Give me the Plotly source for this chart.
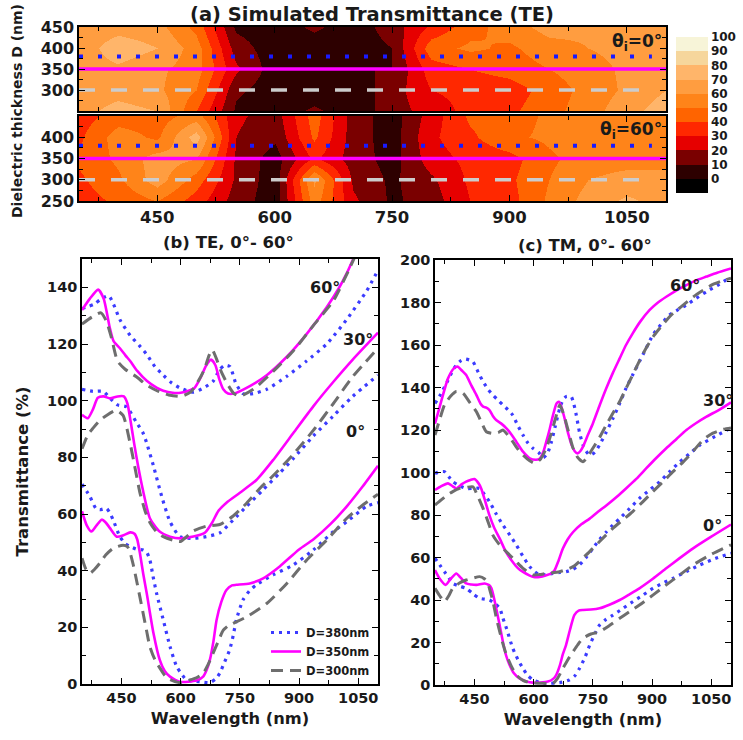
import plotly.graph_objects as go

W, H = 743, 740

# ---------------- panel (a) contour maps ----------------
wl_grid = [350, 400, 450, 500, 550, 600, 650, 700, 750, 800, 850, 900, 950, 1000, 1050, 1100]
d_grid = [250, 300, 350, 400, 450]
# rows follow d_grid (250 -> 450)
map_0deg = [
    [66, 74, 70, 40, 8, 4, 12, 4, 15, 25, 33, 38, 46, 56, 66, 76],
    [64, 66, 62, 50, 12, 4, 4, 4, 15, 30, 33, 35, 44, 54, 62, 70],
    [65, 68, 62, 55, 22, 4, 4, 10, 10, 35, 40, 44, 50, 56, 62, 66],
    [64, 76, 70, 55, 15, 4, 4, 4, 10, 46, 52, 48, 56, 60, 63, 65],
    [63, 66, 64, 47, 8, 4, 12, 4, 15, 32, 46, 55, 64, 62, 63, 64],
]
map_60deg = [
    [35, 42, 50, 35, 15, 4, 55, 22, 8, 15, 30, 36, 52, 64, 72, 66],
    [38, 48, 65, 45, 18, 4, 62, 18, 8, 18, 32, 38, 50, 60, 64, 62],
    [42, 52, 65, 60, 18, 5, 32, 15, 6, 25, 33, 36, 48, 55, 56, 58],
    [38, 55, 48, 75, 20, 12, 42, 15, 5, 28, 38, 48, 52, 55, 55, 56],
    [35, 45, 45, 55, 22, 15, 45, 15, 5, 25, 42, 45, 52, 55, 55, 56],
]
level_colors = ["#000000", "#2d0000", "#7a0000", "#e60000", "#ff2800", "#ff6400",
                "#ff8419", "#ff9d40", "#ffb56a", "#f6d69c", "#f7f4d8"]
cbar_ticks = [0, 10, 20, 30, 40, 50, 60, 70, 80, 90, 100]
ref_D = [380, 350, 300]
ref_x_end = [1082, 1100, 1068]

# ---------------- panel (b) TE curves ----------------
b60_350_x = [350, 370, 391, 405, 420, 430, 446, 460, 472, 490, 514, 540, 556, 580, 600, 620, 635, 650, 665, 677, 688, 698, 708, 720, 735, 767, 818, 869, 919, 970, 1000, 1021, 1042]
b60_350_y = [132, 136, 139.2, 136, 126, 121, 118.5, 116, 114, 110.5, 107, 104.5, 103.5, 102.8, 102.8, 103.5, 104.5, 108, 112.5, 114.5, 112.5, 107.5, 104, 102.5, 102.5, 104.5, 109, 115.5, 123.5, 133, 139.5, 145, 151.5]
b60_380_x = [350, 380, 400, 418, 430, 446, 472, 495, 514, 535, 556, 575, 598, 632, 657, 682, 699, 712, 725, 740, 758, 784, 818, 869, 919, 970, 1021, 1071, 1100]
b60_380_y = [132.5, 134, 136, 137, 134, 128.6, 123, 119.5, 116.3, 112, 109, 106.5, 104.5, 103, 104.4, 106.8, 111, 112.5, 112, 106, 102.5, 102.5, 104, 108.6, 114, 120, 128.7, 138.7, 146]
b60_300_x = [350, 375, 398, 412, 425, 440, 460, 487, 514, 540, 570, 600, 625, 645, 660, 672, 680, 690, 702, 718, 735, 750, 784, 835, 885, 936, 987, 1029, 1042]
b60_300_y = [127, 129.5, 131, 128, 122, 114, 111, 108.5, 105.5, 103.5, 102, 101.5, 103, 107, 111, 116, 118, 115, 110.5, 106, 102.5, 101.6, 104, 110.4, 117.5, 126.5, 135.3, 147, 151]

b30_350_x = [350, 365, 378, 390, 405, 421, 440, 456, 465, 474, 482, 492, 505, 522, 545, 573, 600, 640, 662, 680, 695, 716, 750, 792, 834, 885, 936, 986, 1036, 1100]
b30_350_y = [95, 93.8, 97, 101, 101.5, 100.8, 101.5, 101.5, 99, 92, 85, 77, 68, 58.5, 54, 52, 51.4, 52.3, 53.5, 57, 61, 64, 67.5, 72, 79, 88.5, 98, 106.5, 114.5, 124]
b30_380_x = [350, 378, 404, 420, 440, 463, 488, 505, 514, 531, 552, 573, 598, 632, 665, 699, 733, 767, 809, 851, 885, 936, 986, 1036, 1100]
b30_380_y = [104, 103.3, 103.3, 101, 98.5, 97.8, 92.3, 88.5, 85, 77, 66.2, 57.3, 52, 51.4, 52, 53.3, 57.9, 62.7, 68.6, 74.5, 79.5, 87.5, 94.5, 101.5, 109]
b30_300_x = [350, 365, 378, 395, 412, 437, 454, 471, 484, 497, 510, 522, 540, 556, 580, 600, 615, 632, 665, 699, 733, 767, 801, 834, 885, 936, 987, 1036, 1100]
b30_300_y = [83, 88, 90.3, 93, 94.8, 96.6, 94.8, 85.6, 76.5, 67.4, 61, 57, 53.5, 52, 50.8, 50.3, 52, 54, 55.7, 56.3, 59.3, 63.8, 69.1, 73.5, 81, 89.5, 99, 108.5, 118.5]

b0_350_x = [350, 362, 374, 387, 400, 410, 421, 438, 455, 472, 483, 490, 497, 505, 514, 531, 547, 560, 573, 598, 640, 657, 666, 674, 683, 691, 703, 716, 730, 741, 775, 809, 851, 900, 936, 980, 1021, 1060, 1100]
b0_350_y = [61, 56, 53.8, 56, 58, 57, 55, 52, 52.5, 53.5, 53, 51, 46, 39, 32, 18, 8.5, 4.5, 2.6, 0.8, 1.2, 2.6, 5, 8.5, 15, 22.6, 29, 33.2, 34.8, 35, 35.5, 37.3, 41.5, 47.5, 51, 56.5, 62.7, 69.5, 77]
b0_380_x = [350, 362, 370, 385, 395, 412, 420, 429, 446, 460, 472, 490, 505, 514, 522, 530, 539, 556, 573, 590, 605, 615, 649, 674, 690, 699, 712, 724, 733, 741, 758, 775, 792, 834, 885, 936, 987, 1021, 1071, 1100]
b0_380_y = [70.5, 68, 66.2, 62, 61.5, 62, 60.5, 57.9, 52, 49.5, 48.5, 47.5, 47.3, 46.5, 43.8, 38, 32, 22.6, 13.2, 6.1, 3, 1.4, 0.8, 0.5, 2, 3.8, 8, 12, 17, 22.6, 29.7, 33, 35, 38.5, 42, 47.3, 53.8, 57.3, 62.7, 64]
b0_300_x = [350, 360, 370, 382, 395, 410, 429, 454, 465, 471, 480, 488, 497, 505, 514, 522, 535, 547, 560, 573, 598, 623, 640, 657, 670, 682, 695, 708, 720, 733, 767, 818, 869, 919, 970, 1021, 1060, 1100]
b0_300_y = [44.4, 40.5, 39.1, 40.5, 42.6, 45.5, 47.9, 49, 48.5, 46.8, 42, 36.7, 30.5, 24.9, 18.5, 13.2, 8.5, 5.7, 3, 1.6, 0.5, 1.4, 2.2, 3.8, 7, 10.8, 15, 19, 20.5, 21.4, 23.7, 28.4, 35.5, 43.7, 50.8, 58.5, 63, 67]

# ---------------- panel (c) TM curves ----------------
c60_350_x = [350, 365, 383, 398, 408, 418, 429, 442, 455, 465, 472, 480, 488, 497, 505, 518, 531, 545, 556, 573, 590, 605, 615, 625, 632, 640, 649, 658, 664, 670, 679, 688, 696, 704, 711, 718, 725, 737, 750, 767, 784, 801, 818, 834, 851, 870, 894, 915, 936, 960, 987, 1010, 1038, 1065, 1100]
c60_350_y = [123, 133, 144.3, 149, 149.8, 148, 145.9, 141, 136.4, 132.5, 131, 130.5, 129.4, 126.5, 124.7, 123, 120.8, 117.5, 114.5, 109.8, 106.7, 106, 106.4, 110, 114.5, 120, 127, 132.5, 133.3, 131, 125, 118, 113, 110, 109, 110, 112.2, 117.5, 123.1, 131.5, 139.6, 147, 153.7, 160, 165.5, 171, 176.5, 180, 182.7, 185.5, 188.2, 190.3, 192.2, 194, 196]
c60_380_x = [350, 365, 381, 395, 404, 415, 425, 436, 446, 460, 472, 485, 497, 510, 522, 535, 547, 560, 573, 585, 598, 612, 624, 635, 645, 655, 666, 674, 682, 695, 702, 708, 716, 725, 733, 742, 755, 767, 784, 801, 818, 834, 851, 868, 885, 902, 922, 944, 965, 987, 1012, 1038, 1065, 1088, 1100]
c60_380_y = [132.5, 137, 142.7, 148, 150.6, 152.5, 153.4, 153, 152.2, 147, 142.7, 139, 136.4, 134, 131.8, 129.5, 127, 122, 117.6, 114, 111.4, 109.5, 107, 109, 114.5, 122, 130.2, 134, 135.7, 135.7, 132, 127, 119, 113, 110, 108.2, 109.5, 113, 119, 125.5, 132.5, 139.6, 146, 152.2, 158.5, 164.7, 169.5, 174.1, 176.5, 178.8, 182, 185.1, 188, 190.6, 191]
c60_300_x = [350, 362, 374, 390, 404, 421, 438, 455, 468, 480, 497, 510, 522, 535, 547, 560, 573, 590, 603, 618, 632, 643, 653, 660, 666, 672, 679, 690, 700, 712, 725, 737, 750, 767, 784, 801, 818, 834, 851, 868, 885, 905, 927, 948, 970, 990, 1012, 1033, 1054, 1075, 1100]
c60_300_y = [117.6, 125, 131.8, 136, 138.1, 137.3, 133, 128.6, 123.5, 119.2, 118.4, 118.8, 120, 117.5, 114.5, 111, 108.2, 105.5, 104.3, 106.5, 111.4, 117.5, 124, 128.5, 131.8, 129.5, 125.5, 118, 111.4, 107, 105.1, 107.5, 111.4, 116.5, 122.4, 128, 133.4, 139.5, 146, 152.5, 158.6, 164.5, 169.6, 174, 177.4, 180.5, 183.7, 186.2, 188.5, 190, 191.5]

c30_350_x = [350, 365, 383, 395, 404, 418, 429, 440, 450, 460, 467, 478, 488, 500, 514, 530, 547, 560, 573, 590, 600, 615, 632, 645, 653, 663, 674, 686, 700, 720, 742, 763, 784, 810, 834, 860, 885, 910, 936, 962, 987, 1012, 1038, 1070, 1100]
c30_350_y = [91.8, 93.5, 94.9, 93.5, 92.5, 94.5, 95.7, 96.5, 96.9, 95, 92.5, 86, 79.8, 74, 68.9, 62.5, 57.9, 55, 53.2, 51.5, 50.8, 50.8, 51.6, 52.5, 54, 58.5, 64.2, 68.5, 72, 75.5, 78.3, 81.5, 84.5, 88.5, 92.5, 97, 101.9, 106.7, 111.4, 115.8, 120, 123.3, 126.3, 129.5, 133]
c30_380_x = [350, 362, 374, 385, 395, 410, 429, 446, 463, 476, 488, 505, 522, 540, 556, 573, 590, 603, 615, 632, 649, 666, 682, 700, 716, 733, 750, 767, 784, 801, 818, 843, 868, 894, 919, 944, 970, 996, 1021, 1060, 1100]
c30_380_y = [99.6, 100.3, 100.4, 98, 95.7, 94, 92.5, 92.5, 92.5, 89.5, 86.3, 80.5, 75.3, 70.5, 65.9, 60.5, 55.7, 53.3, 51.8, 52, 52.5, 53, 53.3, 54.5, 56.5, 60, 64.3, 68.5, 72, 75.3, 78.3, 83, 87.8, 91.8, 95.6, 100.3, 105, 109, 112.9, 117, 121]
c30_300_x = [350, 365, 381, 395, 412, 430, 446, 458, 472, 485, 497, 514, 539, 556, 573, 598, 615, 632, 666, 700, 733, 767, 801, 826, 851, 877, 902, 928, 953, 979, 1004, 1030, 1054, 1080, 1100]
c30_300_y = [84.7, 87, 89.4, 91, 92.5, 93, 93.3, 89, 83, 76.5, 70.4, 65.9, 61.2, 58, 54.9, 51.8, 52, 52.5, 53.3, 55.7, 61.2, 67.5, 73.8, 77.7, 81.6, 86.3, 91, 95.7, 100.4, 105, 110, 115.5, 118.5, 120.3, 121]

c0_350_x = [350, 362, 377, 390, 404, 415, 429, 442, 455, 476, 487, 493, 500, 505, 514, 522, 530, 539, 550, 564, 580, 598, 636, 650, 657, 666, 674, 682, 692, 703, 714, 725, 745, 767, 792, 818, 843, 868, 902, 936, 970, 1004, 1050, 1100]
c0_350_y = [54.1, 50, 47.1, 50, 52.5, 50.5, 47.8, 47.3, 47.1, 47.8, 47, 45.5, 40.5, 36.1, 28, 20.4, 14, 9.4, 5.5, 3.1, 1.8, 1.1, 1.6, 3, 4.7, 9, 14.5, 18.8, 26, 32.9, 35, 35.3, 35.5, 36.1, 37.8, 40, 42.7, 45.5, 50, 54.9, 59.7, 64.3, 69.8, 75.5]
c0_380_x = [350, 362, 374, 385, 395, 412, 429, 446, 463, 488, 500, 514, 522, 531, 547, 560, 573, 585, 598, 615, 632, 666, 691, 705, 716, 730, 742, 755, 767, 784, 801, 826, 851, 877, 902, 928, 953, 987, 1021, 1060, 1100]
c0_380_y = [59.6, 56.5, 53.3, 50.5, 47.8, 46.5, 45.5, 43, 40.8, 40, 38.5, 36.1, 31.5, 26.7, 17.3, 12, 7.8, 4.5, 2.4, 1.2, 0.8, 1.1, 2.4, 4.5, 7.8, 13, 18.8, 24, 28.2, 31, 32.9, 36, 39.2, 42.3, 45.5, 48, 50.2, 53.4, 56.5, 59.5, 62]
c0_300_x = [350, 362, 374, 385, 395, 412, 429, 446, 463, 475, 484, 490, 497, 505, 514, 522, 531, 543, 556, 573, 590, 624, 649, 660, 674, 687, 700, 712, 725, 745, 767, 792, 818, 843, 868, 902, 936, 970, 1004, 1050, 1100]
c0_300_y = [45.5, 42, 39.2, 42, 45.5, 48, 49.4, 50.3, 51, 50, 47.8, 44, 39.2, 32, 25.1, 19.5, 14.1, 9, 4.7, 2.2, 1.1, 0.8, 0.8, 3, 7.8, 12, 15.7, 19, 22, 24, 25.1, 28, 31.4, 34.5, 37.6, 42.3, 47.1, 51.8, 56.5, 61.5, 66]

# angle labels
b_angle_text = ["60°", "30°", "0°"]
b_angle_x = [966, 1049, 1042]
b_angle_y = [140, 121.5, 89]
c_angle_x = [983, 1067, 1052]
c_angle_y = [188, 134, 75]

# ---------------- styles ----------------
FONT = "DejaVu Sans, Verdana, sans-serif"
BLUE = "#3b3bff"
MAG = "#ff00ff"
GRAY = "#6e6e6e"
TXT = "#1a1a1a"

fig = go.Figure()

# colorscale: stepped bands, colour k covers [-10 + 10k, 10k]
n = len(level_colors)
cscale = []
for k, c in enumerate(level_colors):
    cscale.append([k / n, c])
    cscale.append([(k + 1) / n, c])

for z, xa, ya in [(map_0deg, "x", "y"), (map_60deg, "x2", "y2")]:
    fig.add_trace(go.Heatmap(x=wl_grid, y=d_grid, z=z, zsmooth="best",
                             coloraxis="coloraxis", xaxis=xa, yaxis=ya,
                             hoverinfo="skip"))
    styles = [dict(color="#1a1aff", width=4, dash="4px,15px"),
              dict(color=MAG, width=3.5),
              dict(color="#cccccc", width=3.5, dash="16px,16px")]
    for d, xe, st in zip(ref_D, ref_x_end, styles):
        fig.add_trace(go.Scatter(x=[350, xe], y=[d, d], mode="lines", line=st,
                                 xaxis=xa, yaxis=ya, showlegend=False, hoverinfo="skip"))

line_styles = {
    380: dict(color=BLUE, width=3.2, dash="3px,5px"),
    350: dict(color=MAG, width=2.6),
    300: dict(color=GRAY, width=3, dash="12px,7px"),
}

b_curves = [
    (b60_380_x, b60_380_y, 380), (b60_350_x, b60_350_y, 350), (b60_300_x, b60_300_y, 300),
    (b30_380_x, b30_380_y, 380), (b30_350_x, b30_350_y, 350), (b30_300_x, b30_300_y, 300),
    (b0_380_x, b0_380_y, 380), (b0_350_x, b0_350_y, 350), (b0_300_x, b0_300_y, 300),
]
c_curves = [
    (c60_380_x, c60_380_y, 380), (c60_350_x, c60_350_y, 350), (c60_300_x, c60_300_y, 300),
    (c30_380_x, c30_380_y, 380), (c30_350_x, c30_350_y, 350), (c30_300_x, c30_300_y, 300),
    (c0_380_x, c0_380_y, 380), (c0_350_x, c0_350_y, 350), (c0_300_x, c0_300_y, 300),
]
shown = set()
for xs, ys, d in b_curves:
    leg = d not in shown
    shown.add(d)
    fig.add_trace(go.Scatter(x=xs, y=ys, mode="lines", line=dict(shape="spline", smoothing=0.6, **line_styles[d]),
                             name="D=%dnm" % d, showlegend=leg, legendrank=1000 - d,
                             xaxis="x3", yaxis="y3"))
for xs, ys, d in c_curves:
    fig.add_trace(go.Scatter(x=xs, y=ys, mode="lines", line=dict(shape="spline", smoothing=0.6, **line_styles[d]),
                             name="D=%dnm" % d, showlegend=False, xaxis="x4", yaxis="y4"))

def px_x(p):
    return p / W

def px_y(p):
    return 1 - p / H

def bold(size):
    return dict(family=FONT, size=size, color=TXT, weight="bold")

common = dict(showline=True, linecolor="black", linewidth=1.5, mirror="allticks",
              ticks="inside", ticklen=6, tickwidth=1.2, tickcolor="black",
              showgrid=False, zeroline=False, tickfont=bold(14.5), automargin=False)

xmap = dict(common, range=[350, 1100], tickvals=[450, 600, 750, 900, 1050], tickfont=bold(16.5),
            minor=dict(dtick=75, tick0=375, ticks="inside", ticklen=4, tickcolor="black"),
            domain=[px_x(79), px_x(666)])
ymap = dict(common, range=[250, 450], tickfont=bold(16),
            minor=dict(dtick=25, ticks="inside", ticklen=4, tickcolor="black"))
xline = dict(common, range=[350, 1100], tickvals=[450, 600, 750, 900, 1050],
             minor=dict(dtick=75, tick0=375, ticks="inside", ticklen=4, tickcolor="black"),
             title=dict(text="<b>Wavelength (nm)</b>", font=bold(16.3), standoff=7))
fig.update_layout(
    xaxis=dict(xmap, anchor="y", showticklabels=False),
    yaxis=dict(ymap, tickvals=[300, 350, 400, 450], domain=[px_y(111), px_y(27)], anchor="x"),
    xaxis2=dict(xmap, anchor="y2"),
    yaxis2=dict(ymap, tickvals=[250, 300, 350, 400], domain=[px_y(201), px_y(116)], anchor="x2"),
    xaxis3=dict(xline, domain=[px_x(82), px_x(378)], anchor="y3"),
    yaxis3=dict(common, range=[0, 150], tickvals=[0, 20, 40, 60, 80, 100, 120, 140],
                minor=dict(dtick=10, ticks="inside", ticklen=4, tickcolor="black"),
                domain=[px_y(684), px_y(259)], anchor="x3",
                title=dict(text="<b>Transmittance (%)</b>", font=bold(16.5), standoff=14)),
    xaxis4=dict(xline, domain=[px_x(435), px_x(731)], anchor="y4"),
    yaxis4=dict(common, range=[0, 200], tickvals=[0, 20, 40, 60, 80, 100, 120, 140, 160, 180, 200],
                minor=dict(dtick=10, ticks="inside", ticklen=4, tickcolor="black"),
                domain=[px_y(685), px_y(260)], anchor="x4"),
    coloraxis=dict(colorscale=cscale, cmin=-10, cmax=100,
                   colorbar=dict(x=px_x(676), xanchor="left", xpad=0, ypad=0,
                                 y=px_y(115), yanchor="middle", len=156 / H, lenmode="fraction",
                                 thickness=32, outlinewidth=0, tickvals=cbar_ticks, ticks="",
                                 tickfont=bold(12))),
    legend=dict(x=px_x(266), y=px_y(618), xanchor="left", yanchor="top",
                bgcolor="rgba(0,0,0,0)", font=bold(11.5),
                tracegroupgap=0, itemwidth=30),
    width=W, height=H, margin=dict(l=0, r=0, t=0, b=0, pad=0, autoexpand=False),
    paper_bgcolor="white", plot_bgcolor="white",
    font=dict(family=FONT, color=TXT),
)

def paper_ann(text, x, y, size, **kw):
    d = dict(text=text, x=px_x(x), y=px_y(y), xref="paper", yref="paper", showarrow=False,
             xanchor="center", yanchor="middle", font=bold(size))
    d.update(kw)
    return d

ann = []
ann.append(paper_ann("<b>(a) Simulated Transmittance (TE)</b>", 372, 14, 19.5))
ann.append(paper_ann("<b>(b) TE, 0°- 60°</b>", 228, 243, 16.5))
ann.append(paper_ann("<b>(c) TM, 0°- 60°</b>", 585, 245, 16.5))
ann.append(paper_ann("<b>Dielectric thickness D (nm)</b>", 17, 111, 14, textangle=-90))
ann.append(paper_ann("<b>θ<sub>i</sub>=0°</b>", 664, 43, 17, xanchor="right"))
ann.append(paper_ann("<b>θ<sub>i</sub>=60°</b>", 664, 131, 17, xanchor="right"))
for t, xv, yv in zip(b_angle_text, b_angle_x, b_angle_y):
    ann.append(dict(text="<b>%s</b>" % t, x=xv, y=yv, xref="x3", yref="y3", showarrow=False,
                    xanchor="center", yanchor="middle", font=bold(16)))
for t, xv, yv in zip(b_angle_text, c_angle_x, c_angle_y):
    ann.append(dict(text="<b>%s</b>" % t, x=xv, y=yv, xref="x4", yref="y4", showarrow=False,
                    xanchor="center", yanchor="middle", font=bold(16)))
fig.update_layout(annotations=ann)

fig.write_html("out.html", config={"displayModeBar": False},
               post_script="document.body.style.margin='0';document.body.style.overflow='hidden';")
